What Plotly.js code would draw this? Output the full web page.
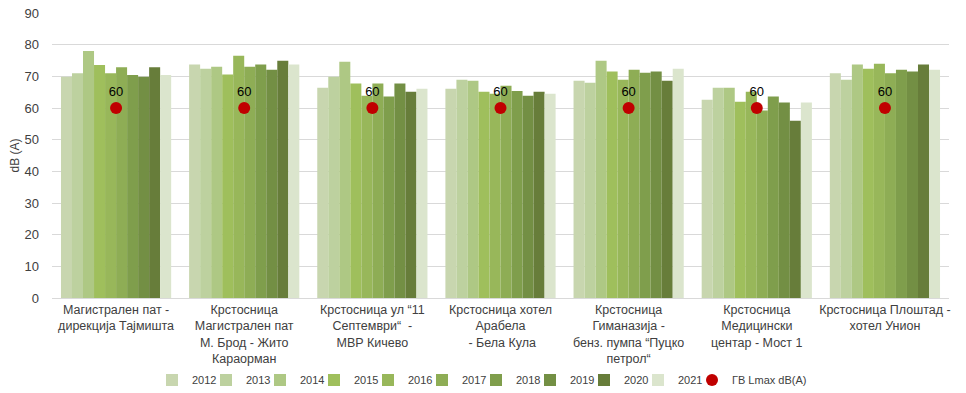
<!DOCTYPE html>
<html>
<head>
<meta charset="utf-8">
<script src="https://cdn.plot.ly/plotly-3.0.1.min.js"></script>
<style>html,body{margin:0;padding:0;background:#fff;}#chart{width:966px;height:393px;}</style>
</head>
<body>
<div id="chart"></div>
<script>
const categories = [
  "Магистрален пат -<br>дирекција Тајмишта",
  "Крстосница<br>Магистрален пат<br>М. Брод - Жито<br>Караорман",
  "Крстосница ул “11<br>Септември“  -<br>МВР Кичево",
  "Крстосница хотел<br>Арабела<br> - Бела Кула",
  "Крстосница<br>Гиманазија -<br>бенз. пумпа “Пуцко<br>петрол“",
  "Крстосница<br>Медицински<br>центар - Мост 1",
  "Крстосница Плоштад -<br>хотел Унион"
];
const years = ["2012","2013","2014","2015","2016","2017","2018","2019","2020","2021"];
const v2012 = [69.9, 73.7, 66.4, 66.1, 68.6, 62.6, 71.0];
const v2013 = [71.0, 72.4, 69.9, 68.9, 68.0, 66.4, 68.9];
const v2014 = [78.0, 73.0, 74.6, 68.6, 74.9, 66.4, 73.7];
const v2015 = [73.6, 70.6, 67.7, 65.1, 71.5, 62.0, 72.4];
const v2016 = [71.0, 76.5, 63.9, 64.5, 68.9, 65.1, 74.0];
const v2017 = [72.9, 73.0, 67.7, 67.0, 72.1, 59.2, 71.0];
const v2018 = [70.4, 73.7, 63.6, 65.4, 71.1, 63.6, 72.1];
const v2019 = [69.9, 72.1, 67.7, 63.9, 71.5, 61.7, 71.5];
const v2020 = [72.9, 74.9, 65.1, 65.1, 68.6, 56.0, 73.7];
const v2021 = [70.4, 73.7, 66.1, 64.5, 72.4, 61.7, 72.1];
const limitValues = [60, 60, 60, 60, 60, 60, 60];
const limitName = "ГВ Lmax dB(A)";

const seriesValues = [v2012, v2013, v2014, v2015, v2016, v2017, v2018, v2019, v2020, v2021];
const colors = ["#c8d6af","#bdd19f","#aec884","#9fbf5c","#98b75a","#8ead55","#7f9e4c","#738f44","#677d3a","#dbe5cd"];

const font = "Liberation Sans, Arial, sans-serif";
const W = 966;
const legendId = i => (i === 0 ? "legend" : "legend" + (i + 1));

const traces = seriesValues.map((vals, i) => ({
  type: "bar",
  name: years[i],
  x: categories,
  y: vals,
  marker: {color: colors[i]},
  legend: legendId(i),
  hoverinfo: "skip"
}));
traces.push({
  type: "scatter",
  mode: "markers+text",
  name: limitName,
  x: categories,
  y: limitValues,
  text: limitValues.map(String),
  textposition: "top center",
  textfont: {family: font, size: 13, color: "#000"},
  marker: {color: "#c00000", size: 12},
  legend: legendId(years.length),
  cliponaxis: false
});

const layout = {
  width: W, height: 393,
  margin: {l: 52, r: 17, t: 13, b: 95},
  paper_bgcolor: "#fff", plot_bgcolor: "#fff",
  font: {family: font, size: 12, color: "#404040"},
  barmode: "group",
  bargap: 0.14,
  bargroupgap: 0,
  showlegend: true,
  xaxis: {
    type: "category",
    tickangle: 0,
    showgrid: false,
    showline: true, linecolor: "#d9d9d9",
    ticks: "",
    automargin: false,
    tickfont: {family: font, size: 12.5, color: "#404040"}
  },
  yaxis: {
    range: [0, 90],
    dtick: 10,
    showgrid: true, gridcolor: "#d9d9d9",
    zeroline: false,
    ticks: "",
    ticklabelstandoff: 12,
    automargin: false,
    tickfont: {family: font, size: 13, color: "#404040"},
    title: {text: "dB (A)", font: {family: font, size: 12, color: "#404040"}, standoff: 2}
  }
};

// one legend box per entry, so the entries can sit close together like the original
const firstSymbol = 172, step = 54;
for (let i = 0; i <= years.length; i++) {
  const sym = firstSymbol + step * i;
  layout[legendId(i)] = {
    orientation: "h",
    xref: "container", x: (sym - 20) / W, xanchor: "left",
    yref: "container", y: 0.033, yanchor: "middle",
    font: {family: font, size: 11, color: "#404040"},
    bgcolor: "rgba(0,0,0,0)", borderwidth: 0,
    itemwidth: 30
  };
}

Plotly.newPlot("chart", traces, layout, {displayModeBar: false, staticPlot: true});
</script>
</body>
</html>
